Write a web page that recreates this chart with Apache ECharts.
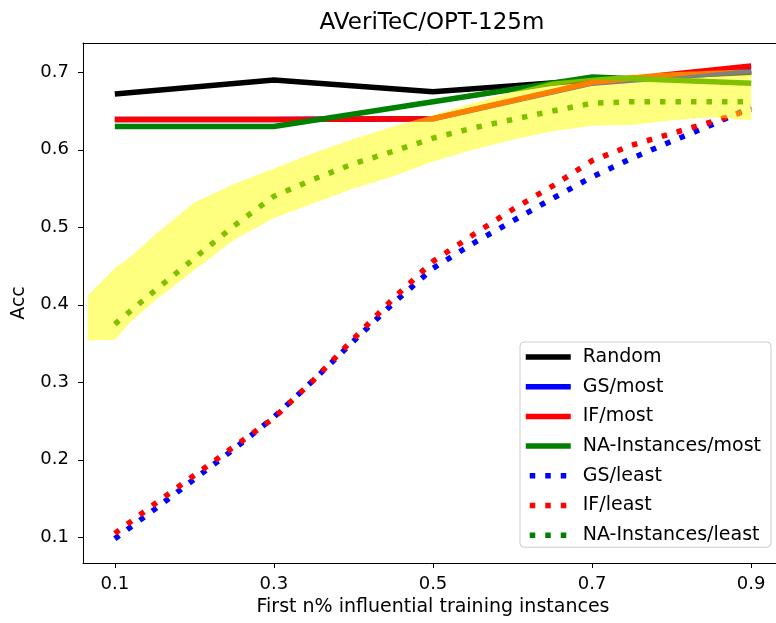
<!DOCTYPE html>
<html>
<head>
<meta charset="utf-8">
<script src="https://cdn.jsdelivr.net/npm/echarts@6/dist/echarts.min.js"></script>
<style>html,body{margin:0;padding:0;background:#fff;}#c{width:776px;height:623px;}</style>
</head>
<body>
<div id="c"></div>
<script>
// ---- data ----
const xMost = [0.1, 0.3, 0.5, 0.7, 0.9];
const randomAcc = [0.672, 0.690, 0.675, 0.690, 0.700];
const gsMost = [0.639, 0.639, 0.640, 0.686, 0.702];
const ifMost = [0.639, 0.639, 0.640, 0.687, 0.708];
const naMost = [0.630, 0.630, 0.662, 0.694, 0.686];

const xLeast = [0.1, 0.15, 0.2, 0.25, 0.3, 0.35, 0.4, 0.45, 0.5, 0.55, 0.6, 0.65, 0.7, 0.75, 0.8, 0.85, 0.9];
const gsLeast = [0.098, 0.136, 0.175, 0.214, 0.255, 0.303, 0.353, 0.402, 0.447, 0.479, 0.508, 0.537, 0.565, 0.589, 0.611, 0.632, 0.655];
const ifLeast = [0.105, 0.143, 0.180, 0.217, 0.254, 0.303, 0.356, 0.408, 0.456, 0.490, 0.523, 0.553, 0.586, 0.606, 0.621, 0.636, 0.652];
const naLeast = [0.375, 0.418, 0.460, 0.502, 0.540, 0.562, 0.582, 0.598, 0.615, 0.628, 0.639, 0.650, 0.660, 0.662, 0.662, 0.662, 0.662];

const bandX = [0.066, 0.1, 0.12, 0.15, 0.2, 0.25, 0.3, 0.35, 0.4, 0.45, 0.5, 0.55, 0.6, 0.65, 0.7, 0.75, 0.8, 0.85, 0.9];
const bandLow = [0.354, 0.355, 0.378, 0.405, 0.445, 0.484, 0.512, 0.531, 0.550, 0.566, 0.585, 0.600, 0.613, 0.624, 0.631, 0.632, 0.638, 0.642, 0.638];
const bandHigh = [0.412, 0.447, 0.462, 0.490, 0.532, 0.556, 0.576, 0.596, 0.614, 0.630, 0.645, 0.660, 0.675, 0.688, 0.693, 0.697, 0.700, 0.702, 0.704];

const xTicks = [0.1, 0.3, 0.5, 0.7, 0.9];
const yTicks = [0.1, 0.2, 0.3, 0.4, 0.5, 0.6, 0.7];

// ---- chart ----
const FONT = 'DejaVu Sans';
const LW = 5.5;
const DOT = [5.5, 10];
const X_MIN = 0.06, X_MAX = 0.94, Y_MIN = 0.0668, Y_MAX = 0.7378;
const pairs = (xs, ys) => xs.map((x, i) => [x, ys[i]]);

function solid(name, color, xs, ys) {
  return { name, type: 'line', data: pairs(xs, ys), symbol: 'none', z: 2,
    lineStyle: { color, width: LW, type: 'solid', cap: 'butt', join: 'miter' }, itemStyle: { color } };
}
function dotted(name, color, xs, ys) {
  return { name, type: 'line', data: pairs(xs, ys), symbol: 'none', z: 2,
    lineStyle: { color, width: LW, type: DOT, cap: 'butt' }, itemStyle: { color } };
}

const chart = echarts.init(document.getElementById('c'), null, { renderer: 'canvas' });
chart.setOption({
  animation: false,
  backgroundColor: '#fff',
  title: { text: 'AVeriTeC/OPT-125m', left: 427, top: 7, textAlign: 'center',
    textStyle: { fontFamily: FONT, fontSize: 23, fontWeight: 'normal', color: '#000' } },
  grid: { left: 83, top: 43, right: -7, bottom: 60, show: false,
    containLabel: false, outerBoundsMode: 'none' },
  xAxis: [{ type: 'value', min: X_MIN, max: X_MAX,
    name: 'First n% influential training instances', nameLocation: 'middle', nameGap: 35,
    nameTextStyle: { fontFamily: FONT, fontSize: 19, color: '#000' },
    axisLine: { show: true, lineStyle: { color: '#000', width: 1 } },
    axisTick: { show: true, length: 5, lineStyle: { color: '#000' }, customValues: xTicks },
    axisLabel: { fontFamily: FONT, fontSize: 18, color: '#000', margin: 12, customValues: xTicks,
      formatter: v => v.toFixed(1) },
    splitLine: { show: false } },
    { type: 'value', position: 'top', min: X_MIN, max: X_MAX,
      axisLine: { show: true, lineStyle: { color: '#000', width: 1 } },
      axisTick: { show: false }, axisLabel: { show: false }, splitLine: { show: false } }],
  yAxis: { type: 'value', min: Y_MIN, max: Y_MAX,
    name: 'Acc', nameLocation: 'middle', nameGap: 54, nameRotate: 90,
    nameTextStyle: { fontFamily: FONT, fontSize: 19, color: '#000' },
    axisLine: { show: true, lineStyle: { color: '#000', width: 1 } },
    axisTick: { show: true, length: 5, lineStyle: { color: '#000' }, customValues: yTicks },
    axisLabel: { fontFamily: FONT, fontSize: 18, color: '#000', margin: 14, customValues: yTicks,
      formatter: v => v.toFixed(1) },
    splitLine: { show: false } },
  legend: {
    orient: 'vertical', left: 520, top: 342,
    itemWidth: 45, itemHeight: 10, itemGap: 9.7,
    padding: [5, 10, 2, 3],
    backgroundColor: 'rgba(255,255,255,0.8)', borderColor: '#cccccc', borderWidth: 1, borderRadius: 4,
    itemStyle: { opacity: 0 },
    lineStyle: { width: LW, cap: 'butt', dashOffset: -4 },
    textStyle: { fontFamily: FONT, fontSize: 19, color: '#000', lineHeight: 20, padding: [0, 0, 0, 7] },
    data: ['Random', 'GS/most', 'IF/most', 'NA-Instances/most', 'GS/least', 'IF/least', 'NA-Instances/least']
  },
  series: [
    solid('Random', '#000000', xMost, randomAcc),
    solid('GS/most', '#0000ff', xMost, gsMost),
    solid('IF/most', '#ff0000', xMost, ifMost),
    solid('NA-Instances/most', '#008000', xMost, naMost),
    dotted('GS/least', '#0000ff', xLeast, gsLeast),
    dotted('IF/least', '#ff0000', xLeast, ifLeast),
    dotted('NA-Instances/least', '#008000', xLeast, naLeast),
    { name: 'band', type: 'custom', z: 3, silent: true,
      data: bandX.map((x, i) => [x, bandLow[i], bandHigh[i]]),
      encode: { x: 0, y: [1, 2] },
      renderItem: function (params, api) {
        if (params.dataIndex !== 0) return null;
        const n = bandX.length;
        const pts = [];
        for (let i = 0; i < n; i++) pts.push(api.coord([bandX[i], bandHigh[i]]));
        for (let i = n - 1; i >= 0; i--) pts.push(api.coord([bandX[i], bandLow[i]]));
        return { type: 'polygon', shape: { points: pts }, style: { fill: 'rgba(255,255,0,0.5)', stroke: null } };
      } }
  ]
});
</script>
</body>
</html>
